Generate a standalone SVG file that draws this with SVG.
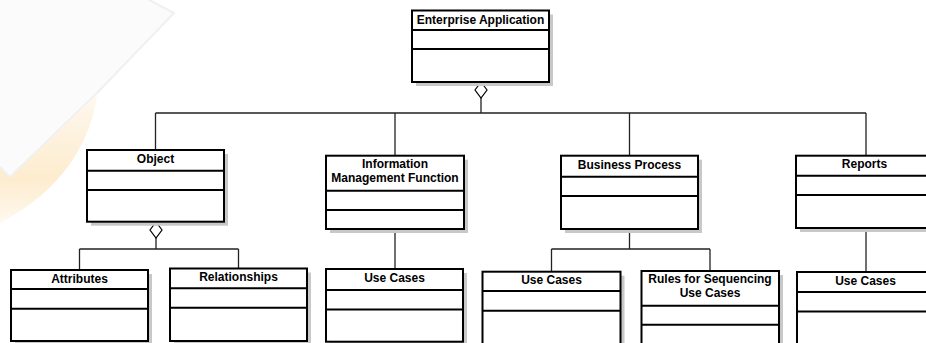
<svg xmlns="http://www.w3.org/2000/svg" width="926" height="343" viewBox="0 0 926 343">
<defs>
<style>
.box{fill:#ffffff;stroke:#000000;stroke-width:2}
.sep{stroke:#000000;stroke-width:2;fill:none}
.shadow{fill:#c8c8c8}
.lbl{font-family:"Liberation Sans",Arial,Helvetica,sans-serif;font-size:12px;font-weight:bold;fill:#000000;text-anchor:middle}
.con{stroke:#222222;stroke-width:1.3;fill:none}
.dia{fill:#ffffff;stroke:#000000;stroke-width:1.2}
</style>
<linearGradient id="orng" x1="0" y1="0" x2="0" y2="1">
<stop offset="0" stop-color="#fef8ef"/>
<stop offset="0.65" stop-color="#fdecce"/>
<stop offset="1" stop-color="#fff9f0"/>
</linearGradient>
</defs>
<rect x="0" y="0" width="926" height="343" fill="#ffffff"/>
<g id="watermark">
<path d="M -5,-5 L 140,-5 L 174,13 L 97,93 L 10,177 L -5,162 Z" fill="#fbfbfb" stroke="#f0f0f0" stroke-width="2"/>
<path d="M 97,94 C 92,140 62,192 -2,224 L -2,166 L 10,178 Z" fill="url(#orng)"/>
</g>
<g id="connectors">
<path class="con" d="M481,98 V113 M155.5,113 H866 M155.5,113 V150 M395,113 V155.7 M629.5,113 V155.7 M866,113 V155.7"/>
<path class="con" d="M156,238 V249 M79.5,249 H238.5 M79.5,249 V270 M238.5,249 V268.5"/>
<path class="con" d="M395,229 V269" stroke-width="1.6"/>
<path class="con" d="M629.5,229 V249 M551.5,249 H710 M551.5,249 V271.7 M710,249 V271"/>
<path class="con" d="M866,228 V272" stroke-width="1.6"/>
<polygon class="dia" points="481,82 487,90 481,98 475,90"/>
<polygon class="dia" points="156,222 162,230 156,238 150,230"/>
</g>
<g id="enterprise-application">
<rect class="shadow" x="416" y="14.5" width="137" height="71.5"/>
<rect class="box" x="412" y="10.5" width="137" height="71.5"/>
<path class="sep" d="M412,30 H549 M412,49 H549"/>
<text class="lbl" x="480.5" y="24">Enterprise Application</text>
</g>
<g id="object">
<rect class="shadow" x="91" y="154" width="137" height="71.7"/>
<rect class="box" x="87" y="150" width="137" height="71.7"/>
<path class="sep" d="M87,170.7 H224 M87,190 H224"/>
<text class="lbl" x="155.5" y="163">Object</text>
</g>
<g id="information-management-function">
<rect class="shadow" x="330" y="159.7" width="138" height="73.3"/>
<rect class="box" x="326" y="155.7" width="138" height="73.3"/>
<path class="sep" d="M326,190.7 H464 M326,210 H464"/>
<text class="lbl" x="395" y="168.3">Information</text>
<text class="lbl" x="395" y="182.3">Management Function</text>
</g>
<g id="business-process">
<rect class="shadow" x="565" y="159.7" width="137" height="73.3"/>
<rect class="box" x="561" y="155.7" width="137" height="73.3"/>
<path class="sep" d="M561,176.7 H698 M561,196 H698"/>
<text class="lbl" x="629.5" y="168.7">Business Process</text>
</g>
<g id="reports">
<rect class="shadow" x="800" y="159.7" width="137" height="72.3"/>
<rect class="box" x="796" y="155.7" width="137" height="72.3"/>
<path class="sep" d="M796,175.7 H933 M796,195 H933"/>
<text class="lbl" x="864.5" y="168.3">Reports</text>
</g>
<g id="attributes">
<rect class="shadow" x="15" y="274" width="137" height="71"/>
<rect class="box" x="11" y="270" width="137" height="71"/>
<path class="sep" d="M11,289 H148 M11,308.7 H148"/>
<text class="lbl" x="79.5" y="283">Attributes</text>
</g>
<g id="relationships">
<rect class="shadow" x="174" y="272.5" width="137" height="72.5"/>
<rect class="box" x="170" y="268.5" width="137" height="72.5"/>
<path class="sep" d="M170,288.3 H307 M170,307.7 H307"/>
<text class="lbl" x="238.5" y="280.5">Relationships</text>
</g>
<g id="use-cases-imf">
<rect class="shadow" x="330" y="273" width="137" height="72.7"/>
<rect class="box" x="326" y="269" width="137" height="72.7"/>
<path class="sep" d="M326,290 H463 M326,309.5 H463"/>
<text class="lbl" x="394.5" y="282">Use Cases</text>
</g>
<g id="use-cases-bp">
<rect class="shadow" x="486.5" y="275.7" width="138" height="75"/>
<rect class="box" x="482.5" y="271.7" width="138" height="75"/>
<path class="sep" d="M482.5,291 H620.5 M482.5,310.7 H620.5"/>
<text class="lbl" x="551.5" y="284.3">Use Cases</text>
</g>
<g id="rules-for-sequencing-use-cases">
<rect class="shadow" x="645.5" y="275" width="137.5" height="75"/>
<rect class="box" x="641.5" y="271" width="137.5" height="75"/>
<path class="sep" d="M641.5,305.7 H779 M641.5,324.7 H779"/>
<text class="lbl" x="710" y="283.3">Rules for Sequencing</text>
<text class="lbl" x="710" y="296.7">Use Cases</text>
</g>
<g id="use-cases-reports">
<rect class="shadow" x="801" y="276" width="137" height="75"/>
<rect class="box" x="797" y="272" width="137" height="75"/>
<path class="sep" d="M797,292 H934 M797,311.5 H934"/>
<text class="lbl" x="865.5" y="285">Use Cases</text>
</g>
</svg>
